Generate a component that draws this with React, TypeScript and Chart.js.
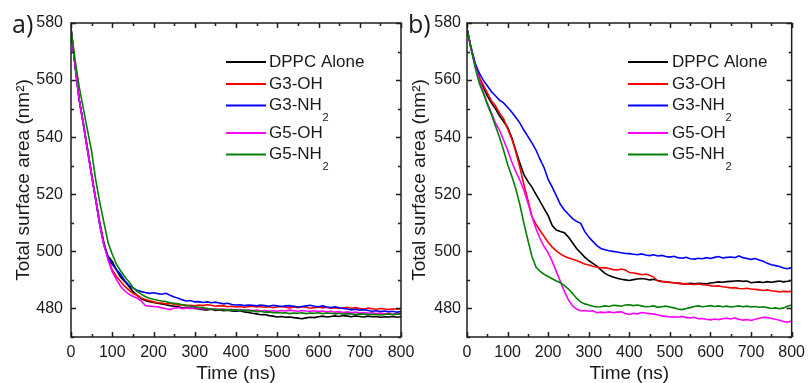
import React, { useEffect, useRef } from "react";
import { Chart, registerables } from "chart.js";

Chart.register(...registerables);

// ---------------- data ----------------
const TIMES = [
  0, 10, 20, 30, 40, 50, 60, 70, 80,
  90, 100, 110, 120, 130, 140, 150, 160, 170,
  180, 190, 200, 210, 220, 230, 240, 250, 260,
  270, 280, 290, 300, 310, 320, 330, 340, 350,
  360, 370, 380, 390, 400, 410, 420, 430, 440,
  450, 460, 470, 480, 490, 500, 510, 520, 530,
  540, 550, 560, 570, 580, 590, 600, 610, 620,
  630, 640, 650, 660, 670, 680, 690, 700, 710,
  720, 730, 740, 750, 760, 770, 780, 790, 800,
];

const SERIES_NAMES = ["DPPC Alone", "G3-OH", "G3-NH\u2082", "G5-OH", "G5-NH\u2082"];
const SERIES_COLORS = ["#000000", "#ff0000", "#0000ff", "#ff00ff", "#008000"];
const PANEL_LABELS = ["a)", "b)"];
const X_TICKS = [0, 100, 200, 300, 400, 500, 600, 700, 800];
const Y_TICKS = [480, 500, 520, 540, 560, 580];
const X_MIN = 0;
const X_MAX = 800;
const Y_MIN = 470;
const Y_MAX = 580;
const X_MINOR_STEP = 50;
const Y_MINOR_STEP = 10;
const X_TITLE = "Time (ns)";
const Y_TITLE = "Total surface area (nm\u00B2)";

// Panel a
const A_DPPC = [
  578, 565, 553, 545, 536, 527, 518, 509, 502,
  498.3, 496.5, 493.6, 491, 489.5, 487.8, 486, 484.7, 483.4,
  482.8, 482.4, 482.1, 481.8, 481.6, 481.3, 481.0, 480.8, 480.6,
  480.2, 480.4, 480.1, 480.0, 479.8, 479.6, 479.5, 479.7, 479.3,
  479.5, 479.2, 479.4, 479.1, 479.0, 479.2, 478.8, 478.6, 478.3,
  478.1, 477.8, 477.9, 477.5, 477.3, 477.0, 477.2, 476.9, 477.0,
  476.8, 476.6, 476.4, 476.7, 476.9, 476.8, 477.1, 477.3, 477.0,
  477.2, 477.4, 477.2, 477.5, 477.3, 477.1, 477.4, 477.2, 477.0,
  477.3, 477.1, 477.2, 476.9, 477.1, 477.0, 477.2, 476.9, 477.1,
];
const A_G3OH = [
  578, 565, 553, 544.5, 535.5, 527, 518.5, 510, 503,
  497.5, 493.5, 491.2, 489.5, 487.8, 486.5, 485.3, 484.6, 483.7,
  483.1, 482.7, 482.3, 482.0, 481.9, 481.6, 481.8, 481.5, 481.2,
  481.3, 481.0, 481.1, 480.9, 481.2, 481.0, 481.3, 481.1, 480.8,
  481.0, 480.9, 480.6, 480.8, 480.5, 480.7, 480.4, 480.6, 480.8,
  480.5, 480.7, 480.4, 480.6, 480.3, 480.5, 480.7, 480.4, 480.2,
  480.5, 480.3, 480.6, 480.4, 480.1, 480.3, 480.5, 480.2, 480.4,
  480.1, 480.3, 480.0, 480.2, 480.4, 480.1, 480.3, 480.0, 479.8,
  480.1, 479.9, 479.7, 480.0, 479.8, 479.6, 479.9, 479.7, 479.9,
];
const A_G3NH2 = [
  578, 565, 553, 544.5, 535.5, 526.5, 518, 509.5, 502.5,
  497.8, 495.5, 493.6, 492, 489.8, 488.2, 487.2, 486.4, 485.9,
  485.6, 485.3, 485.5, 485.2, 485.0, 485.3, 484.6, 484.0, 483.6,
  483.0, 482.6, 482.8, 482.3, 482.4, 482.1, 482.3, 482.0, 482.2,
  481.9, 481.6, 481.8, 481.4, 481.2, 481.3, 481.0, 481.2, 481.1,
  480.9, 481.2, 481.0, 480.8, 481.1, 480.9, 480.7, 480.9, 481.0,
  480.8, 480.5, 480.7, 480.9, 481.1, 480.8, 480.6, 480.9, 480.5,
  480.3, 480.6, 480.2, 480.0, 479.8, 479.5, 479.7, 479.4, 479.6,
  479.3, 479.0, 479.2, 478.9, 479.1, 478.8, 479.0, 478.7, 478.9,
];
const A_G5OH = [
  578, 565, 553, 544.5, 535.5, 526.5, 518, 509, 502,
  497, 492.8, 490.2, 487.8, 486.2, 485.0, 484.3, 483.6, 482.7,
  481.0, 480.8, 480.7, 480.6, 480.2, 479.9, 479.7, 480.1, 480.3,
  479.9, 480.2, 480.0, 480.3, 480.1, 479.8, 480.0, 479.8, 479.9,
  479.6, 479.8, 479.5, 479.7, 479.4, 479.6, 479.3, 479.5, 479.2,
  479.4, 479.1, 479.3, 479.0, 479.2, 479.0, 479.3, 479.1, 479.4,
  479.2, 479.0, 479.3, 479.1, 479.0, 479.2, 478.9, 479.1, 478.8,
  479.0, 478.7, 478.9, 478.6, 478.8, 478.5, 478.7, 478.4, 478.6,
  478.3, 478.5, 478.2, 478.4, 478.1, 478.3, 478.0, 478.2, 478.0,
];
const A_G5NH2 = [
  578, 567, 557.5, 550, 542.5, 535, 525, 517, 510,
  503, 499, 495.5, 493.2, 491.2, 489.4, 487.4, 486.0, 485.0,
  484.2, 483.6, 483.2, 482.9, 482.6, 482.4, 482.0, 481.8, 481.6,
  481.3, 481.1, 480.8, 480.6, 480.4, 480.2, 480.0, 479.8, 479.6,
  479.7, 479.5, 479.6, 479.4, 479.5, 479.3, 479.4, 479.1, 479.2,
  478.9, 479.0, 478.7, 478.8, 478.5, 478.6, 478.4, 478.5, 478.2,
  478.4, 478.3, 478.5, 478.2, 478.4, 478.3, 478.5, 478.2, 478.4,
  478.3, 478.1, 478.3, 478.0, 478.2, 478.1, 477.9, 478.1, 478.0,
  477.8, 478.0, 477.9, 477.7, 477.9, 478.1, 477.8, 478.0, 478.2,
];

// Panel b
const B_DPPC = [
  578, 571, 565.5, 561, 557.5, 554.5, 552, 550, 547.5,
  545.5, 543.5, 540, 535.5, 531, 527, 524.5, 522.5, 520,
  517.5, 515, 512.5, 509, 507.5, 507, 506.5, 505, 503,
  501, 499.5, 498, 496.8, 495.8, 494.8, 493.5, 492.3, 491.5,
  491, 490.6, 490.2, 490, 489.8, 490.1, 490.3, 490.5, 490.3,
  490.0, 490.2, 489.8, 489.5, 489.3, 489.2, 489.0, 488.9, 488.7,
  488.6, 488.8, 488.6, 488.8, 488.7, 488.6, 488.9, 489.1, 489.3,
  489.2, 489.4, 489.5, 489.6, 489.7, 489.5, 489.6, 489.0, 489.2,
  489.3, 489.1, 489.4, 489.2, 489.4, 489.6, 489.3, 489.5, 489.8,
];
const B_G3OH = [
  578, 571, 565.5, 561, 558.3, 555.5, 552.8, 551, 548.5,
  546.5, 543, 539.5, 535, 529.5, 523.5, 518, 512.2, 509.5,
  507.3, 505.2, 503.2, 501.5, 500.2, 499.1, 498.3, 497.7, 497.2,
  496.8, 496.2, 495.6, 495.2, 494.8, 494.5, 494.2, 494.3, 494.0,
  493.6, 493.5, 493.8, 493.5, 492.6, 492.4, 492.2, 491.8, 492.0,
  491.6, 491.0, 489.6, 489.4, 489.3, 489.1, 489.0, 488.8, 488.6,
  488.7, 488.5, 488.4, 488.6, 488.3, 488.2, 488.0, 487.8, 487.9,
  487.6, 487.4, 487.2, 487.3, 487.0, 486.9, 487.1, 486.8, 486.7,
  486.5, 486.3, 486.5, 486.2, 486.0, 485.8, 486.0, 485.9, 486.0,
];
const B_G3NH2 = [
  578, 571.5, 566, 562.5, 560, 558, 556, 554.5, 553,
  552, 550.5, 548.8, 547, 545, 542.5, 540.3, 538, 535.5,
  532.2, 529.3, 525.2, 522.5, 519.5, 516.5, 514.5, 513, 511.5,
  510.5, 509.8, 507, 505, 503.5, 502, 501, 500.6, 500.2,
  500.0, 499.8, 499.5, 499.3, 499.2, 499.0, 498.8, 499.1, 498.7,
  498.5, 498.8, 498.4, 498.6, 498.2, 498.0, 498.3, 497.8, 497.6,
  497.9, 497.4, 497.3, 497.6, 497.4, 497.8, 497.5, 497.9, 498.2,
  497.7, 497.9, 498.0, 497.8, 498.4, 497.8, 497.5, 497.2, 497.5,
  497.0, 496.5, 495.8, 495.3, 495.0, 494.7, 494.2, 493.9, 494.3,
];
const B_G5OH = [
  578, 571, 565, 560, 556, 552, 548.5, 545, 542.5,
  539, 535.5, 531.5, 528, 525, 521.5, 517, 512.2, 508,
  504.5, 501.7, 499.5, 496.5, 493, 489.5, 486, 483, 481,
  479.8, 479.2, 479.3, 479.0, 479.2, 478.5, 478.7, 478.6, 478.8,
  478.5, 478.7, 478.8, 478.2, 477.9, 478.3, 478.1, 478.6, 478.4,
  478.2, 478.0, 477.8, 477.4, 477.2, 477.0, 477.1, 476.9, 477.2,
  476.8, 476.7, 476.9, 476.4, 476.5, 476.2, 476.0, 476.3, 476.1,
  476.4, 476.6, 476.3, 476.7, 476.2, 475.9, 476.1, 475.8, 476.2,
  476.6, 476.9, 476.8, 476.5, 476.2, 475.9, 475.4, 475.2, 475.6,
];
const B_G5NH2 = [
  578, 571, 564.5, 559, 555.5, 551.5, 548, 544, 540,
  535.5, 530.5, 526.5, 522, 516.5, 510, 504, 498.2, 494.5,
  493, 492, 491.2, 490.4, 489.6, 489.0, 488, 486.8, 485.3,
  483.6, 482.3, 481.6, 481.2, 480.8, 480.5, 480.6, 480.9, 480.7,
  481.1, 481.0, 480.8, 481.2, 481.3, 481.0, 481.2, 480.9, 480.6,
  480.7, 480.9, 480.4, 480.6, 480.8, 480.5, 480.2, 479.8, 479.6,
  480.0, 480.3, 480.7, 480.9, 480.6, 480.8, 481.0, 480.7, 480.9,
  480.6, 480.8, 480.5, 480.7, 480.9, 480.6, 480.8, 480.5, 480.7,
  480.4, 480.6, 480.3, 480.0, 480.2, 479.9, 480.2, 480.8, 481.2,
];

const PANEL_A_SERIES = [A_DPPC, A_G3OH, A_G3NH2, A_G5OH, A_G5NH2];
const PANEL_B_SERIES = [B_DPPC, B_G3OH, B_G3NH2, B_G5OH, B_G5NH2];

// ---------------- styling / layout ----------------
const W = 811;
const H = 383;
const FONT = '"Liberation Sans", Arial, sans-serif';
const TEXT_COLOR = "#1a1a1a";
const AXIS_COLOR = "#1e1e1e";

const LAYOUTS = [
  { padLeft: 0, yWidth: 71, padRight: W - 401, yLabelPad: 8, yTitlePad: 14, labelX: 12, legendX0: 226, legendX1: 266, legendTextX: 269 },
  { padLeft: 405, yWidth: 62, padRight: W - 797, yLabelPad: 6, yTitlePad: 5.5, labelX: 408, legendX0: 628, legendX1: 668, legendTextX: 672 },
];
const LEGEND_ROWS_Y = [62, 84, 105.5, 133, 154.5];

const decorPlugin = {
  id: "decor",
  afterDraw(chart: any, _args: any, opts: any) {
    const { ctx, chartArea: ca, scales } = chart;
    const xs = scales.x;
    const ys = scales.y;
    ctx.save();
    ctx.strokeStyle = AXIS_COLOR;
    ctx.lineWidth = 1.5;
    ctx.strokeRect(ca.left, ca.top, ca.right - ca.left, ca.bottom - ca.top);
    ctx.beginPath();
    for (let t = X_MIN; t <= X_MAX; t += X_MINOR_STEP) {
      const px = Math.round(xs.getPixelForValue(t)) + 0.5;
      const len = t % 100 === 0 ? 5 : 3;
      ctx.moveTo(px, ca.bottom);
      ctx.lineTo(px, ca.bottom - len);
      ctx.moveTo(px, ca.top);
      ctx.lineTo(px, ca.top + len);
    }
    for (let v = Y_MIN; v <= Y_MAX; v += Y_MINOR_STEP) {
      const py = Math.round(ys.getPixelForValue(v)) + 0.5;
      const len = (v - 480) % 20 === 0 ? 5 : 3;
      ctx.moveTo(ca.left, py);
      ctx.lineTo(ca.left + len, py);
      ctx.moveTo(ca.right, py);
      ctx.lineTo(ca.right - len, py);
    }
    ctx.stroke();

    // legend
    SERIES_NAMES.forEach((name, i) => {
      const y = LEGEND_ROWS_Y[i];
      ctx.strokeStyle = SERIES_COLORS[i];
      ctx.lineWidth = 1.8;
      ctx.beginPath();
      ctx.moveTo(opts.legendX0, y);
      ctx.lineTo(opts.legendX1, y);
      ctx.stroke();
      ctx.fillStyle = TEXT_COLOR;
      ctx.font = `17px ${FONT}`;
      ctx.textAlign = "left";
      ctx.textBaseline = "middle";
      const hasSub = name.endsWith("\u2082");
      const base = hasSub ? name.slice(0, -1) : name;
      ctx.fillText(base, opts.legendTextX, y);
      if (hasSub) {
        const w = ctx.measureText(base).width;
        ctx.font = `11px ${FONT}`;
        ctx.textBaseline = "alphabetic";
        ctx.fillText("2", opts.legendTextX + w + 0.5, y + 15);
      }
    });

    // panel label
    ctx.fillStyle = TEXT_COLOR;
    ctx.font = `25px "Open Sans", "Noto Sans", sans-serif`;
    ctx.textAlign = "left";
    ctx.textBaseline = "alphabetic";
    ctx.fillText(opts.label, opts.labelX, 33);
    ctx.restore();
  },
};

function buildConfig(series: number[][], idx: number): any {
  const L = LAYOUTS[idx];
  return {
    type: "line",
    data: {
      datasets: series.map((vals, i) => ({
        label: SERIES_NAMES[i],
        data: TIMES.map((t, k) => ({ x: t, y: vals[k] })),
        borderColor: SERIES_COLORS[i],
        backgroundColor: SERIES_COLORS[i],
        borderWidth: 1.6,
        pointRadius: 0,
        fill: false,
        tension: 0,
        order: series.length - i,
      })),
    },
    options: {
      animation: false,
      responsive: false,
      devicePixelRatio: 1,
      events: [],
      layout: { padding: { left: L.padLeft, right: L.padRight, top: 23, bottom: 0 } },
      plugins: {
        legend: { display: false },
        tooltip: { enabled: false },
        decor: {
          label: PANEL_LABELS[idx],
          labelX: L.labelX,
          legendX0: L.legendX0,
          legendX1: L.legendX1,
          legendTextX: L.legendTextX,
        },
      },
      scales: {
        x: {
          type: "linear",
          min: X_MIN,
          max: X_MAX,
          grid: { display: false, drawTicks: false },
          border: { display: false },
          ticks: { font: { size: 16, family: FONT }, color: TEXT_COLOR, padding: 6, autoSkip: false, maxRotation: 0 },
          afterBuildTicks: (s: any) => {
            s.ticks = X_TICKS.map((v) => ({ value: v }));
          },
          afterFit: (s: any) => {
            s.height = 46;
          },
          title: { display: true, text: X_TITLE, color: TEXT_COLOR, font: { size: 19, family: FONT, lineHeight: 1 }, padding: 0 },
        },
        y: {
          type: "linear",
          min: Y_MIN,
          max: Y_MAX,
          grid: { display: false, drawTicks: false },
          border: { display: false },
          ticks: { font: { size: 16, family: FONT }, color: TEXT_COLOR, padding: L.yLabelPad, autoSkip: false },
          afterBuildTicks: (s: any) => {
            s.ticks = Y_TICKS.map((v) => ({ value: v }));
          },
          afterFit: (s: any) => {
            s.width = L.yWidth;
          },
          title: {
            display: true,
            text: Y_TITLE,
            color: TEXT_COLOR,
            font: { size: 19, family: FONT, lineHeight: 1 },
            padding: { top: L.yTitlePad, bottom: 0 },
          },
        },
      },
    },
    plugins: [decorPlugin],
  };
}

export default function App() {
  const refA = useRef<HTMLCanvasElement | null>(null);
  const refB = useRef<HTMLCanvasElement | null>(null);

  useEffect(() => {
    const charts: Chart[] = [];
    if (refA.current) charts.push(new Chart(refA.current, buildConfig(PANEL_A_SERIES, 0)));
    if (refB.current) charts.push(new Chart(refB.current, buildConfig(PANEL_B_SERIES, 1)));
    return () => charts.forEach((c) => c.destroy());
  }, []);

  const canvasStyle: React.CSSProperties = { position: "absolute", left: 0, top: 0, width: W, height: H };
  return (
    <div style={{ position: "fixed", left: 0, top: 0, width: W, height: H, background: "#ffffff", overflow: "hidden" }}>
      <canvas ref={refA} width={W} height={H} style={canvasStyle} />
      <canvas ref={refB} width={W} height={H} style={canvasStyle} />
    </div>
  );
}
